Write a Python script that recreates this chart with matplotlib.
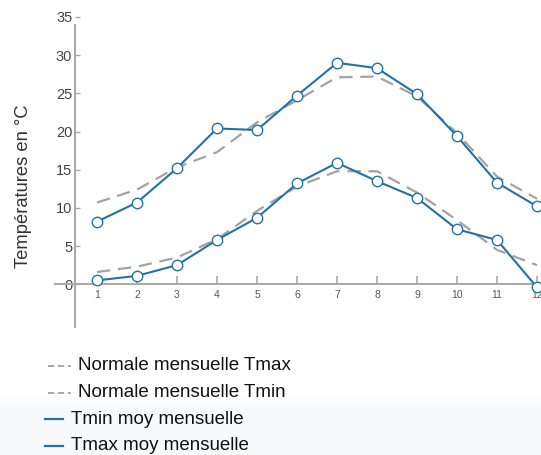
import matplotlib
matplotlib.use("Agg")
import matplotlib.pyplot as plt
from matplotlib.lines import Line2D
from matplotlib.patches import Rectangle

months = [1, 2, 3, 4, 5, 6, 7, 8, 9, 10, 11, 12]
tmax_moy = [8.2, 10.7, 15.2, 20.4, 20.2, 24.7, 29.0, 28.3, 24.9, 19.4, 13.3, 10.2]
tmin_moy = [0.5, 1.1, 2.5, 5.8, 8.7, 13.2, 15.9, 13.5, 11.3, 7.2, 5.8, -0.4]
norm_tmax = [10.7, 12.4, 15.3, 17.3, 21.2, 24.1, 27.1, 27.2, 24.6, 19.8, 14.1, 11.2]
norm_tmin = [1.6, 2.3, 3.5, 5.9, 9.6, 12.8, 14.8, 14.8, 12.0, 8.4, 4.5, 2.5]
yticks = [0, 5, 10, 15, 20, 25, 30, 35]

legend_labels = ["Normale mensuelle Tmax", "Normale mensuelle Tmin",
                 "Tmin moy mensuelle", "Tmax moy mensuelle"]

W, H = 541, 455
fig = plt.figure(figsize=(W / 100, H / 100), dpi=100)
fig.patch.set_facecolor("white")

# light background band at the bottom
fig.add_artist(Rectangle((0, 0), 1, (H - 397) / H, transform=fig.transFigure,
                         facecolor="#f8f9fa", edgecolor="none", zorder=0))
fig.add_artist(Rectangle((0, (H - 405) / H), 1, 8 / H, transform=fig.transFigure,
                         facecolor="#fbfcfd", edgecolor="none", zorder=0))

blue = "#2372a6"
gray = "#a3a3a3"
axis_col = "#aaaaaa"

ax = fig.add_axes([55 / W, (H - 327) / H, 486 / W, (327 - 17) / H])
ax.patch.set_alpha(0)

ax.plot(months, norm_tmax, color=gray, lw=1.6, dashes=(6, 3.5), zorder=2)
ax.plot(months, norm_tmin, color=gray, lw=1.6, dashes=(6, 3.5), zorder=2)
ax.plot(months, tmin_moy, color=blue, lw=1.5, marker="o", ms=7.5,
        mfc="white", mec=blue, mew=1.0, zorder=3)
ax.plot(months, tmax_moy, color=blue, lw=1.5, marker="o", ms=7.5,
        mfc="white", mec=blue, mew=1.0, zorder=3)

ax.set_xlim(-0.05, 12.1)
ax.set_ylim(-5.6, 35)

for s in ["top", "right"]:
    ax.spines[s].set_visible(False)
ax.spines["left"].set_position(("data", 0.45))
ax.spines["left"].set_bounds(-5.6, 34)
ax.spines["bottom"].set_position(("data", 0))
for s in ["left", "bottom"]:
    ax.spines[s].set_color(axis_col)
    ax.spines[s].set_linewidth(1.5)

ax.set_xticks(months)
ax.set_xticklabels([str(m) for m in months])
ax.set_yticks(yticks)
ax.set_yticklabels([str(v) for v in yticks])
ax.tick_params(axis="x", direction="in", length=6, width=1.2, color=axis_col,
               labelsize=7.5, labelcolor="#555555", pad=4)
ax.tick_params(axis="y", direction="in", length=3.5, width=1.0, color=axis_col,
               labelsize=10.5, labelcolor="#444444", pad=2)
for lab in ax.get_yticklabels() + ax.get_xticklabels():
    lab.set_fontfamily("Liberation Sans")

fig.text(24 / W, (H - 186) / H, "Températures en °C", rotation=90,
         ha="center", va="center", fontsize=13.2, color="#333333",
         family="Liberation Sans")

# legend drawn manually
leg_y = [366, 392.5, 419, 445.5]
for i, (lab, yy) in enumerate(zip(legend_labels, leg_y)):
    yf = (H - yy) / H
    if i < 2:
        fig.add_artist(Line2D([48 / W, 71 / W], [yf, yf], transform=fig.transFigure,
                              color=gray, lw=1.3, dashes=(3.5, 2)))
        tx = 78
    else:
        fig.add_artist(Line2D([45 / W, 63 / W], [yf, yf], transform=fig.transFigure,
                              color=blue, lw=1.6))
        tx = 71
    fig.text(tx / W, yf, lab, ha="left", va="center", fontsize=13.5,
             color="#111111", family="Liberation Sans")

fig.savefig("out.png", dpi=100)
